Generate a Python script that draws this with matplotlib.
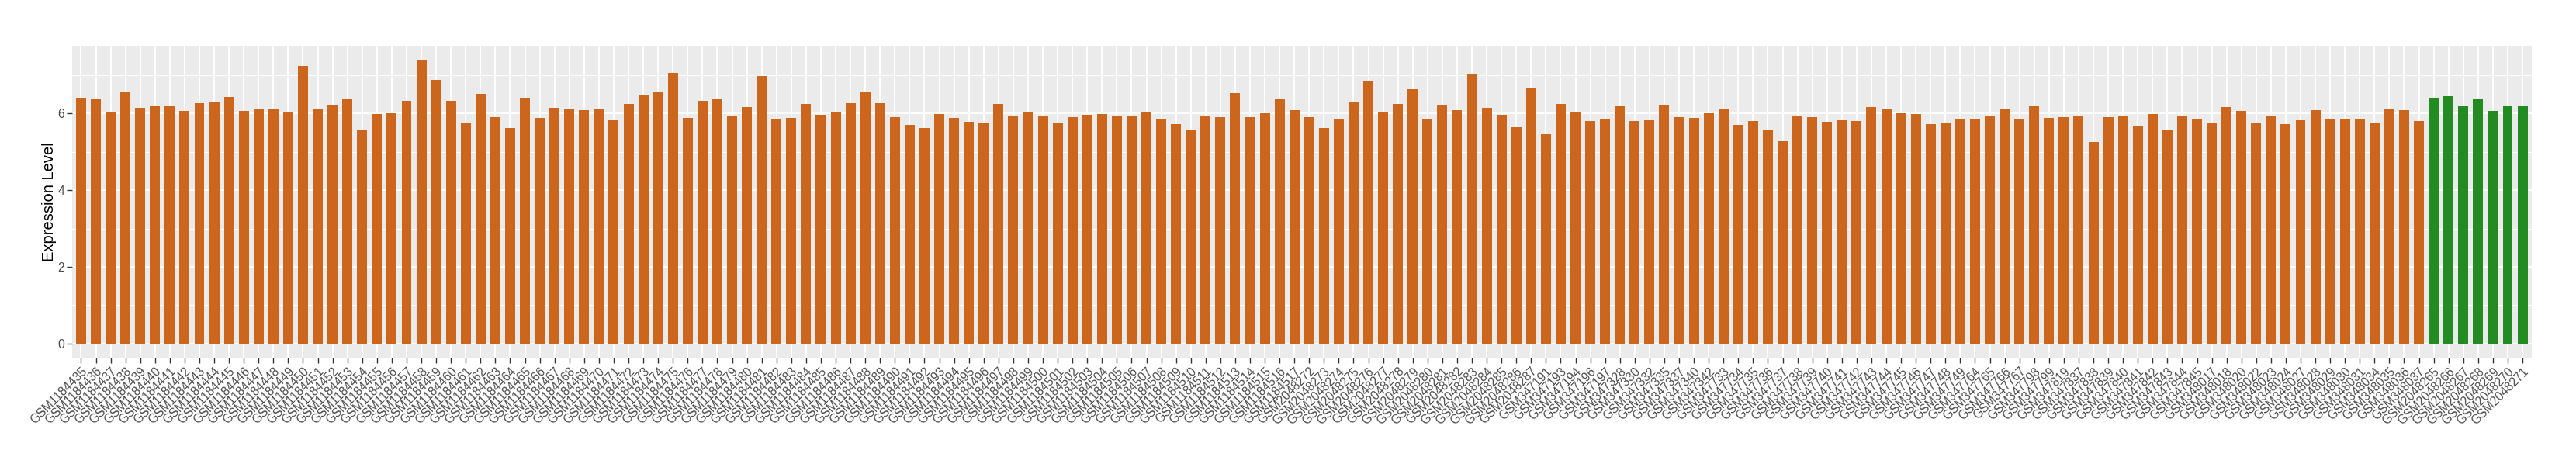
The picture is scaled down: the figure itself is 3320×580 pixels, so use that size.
"""Barras de expresion por muestra (estilo ggplot gris) guardadas en out.png."""

import matplotlib

matplotlib.use("Agg")
import matplotlib.pyplot as plt
import numpy as np
from matplotlib.ticker import MultipleLocator

plt.rcParams["font.family"] = ["Liberation Sans", "DejaVu Sans"]

# --- datos ---------------------------------------------------------------
gse1184_ids = list(range(1184435, 1184518))
gse1184_vals = [
    6.41, 6.39, 6.03, 6.56, 6.14, 6.18, 6.18, 6.06, 6.27, 6.29,
    6.43, 6.06, 6.12, 6.12, 6.03, 7.25, 6.10, 6.22, 6.37, 5.59,
    5.99, 6.01, 6.33, 7.40, 6.87, 6.33, 5.74, 6.52, 5.91, 5.62,
    6.41, 5.89, 6.14, 6.12, 6.08, 6.10, 5.83, 6.24, 6.50, 6.58,
    7.06, 5.89, 6.33, 6.37, 5.93, 6.16, 6.98, 5.85, 5.89, 6.24,
    5.97, 6.03, 6.27, 6.58, 6.27, 5.91, 5.70, 5.62, 5.99, 5.89,
    5.78, 5.76, 6.24, 5.93, 6.03, 5.95, 5.76, 5.91, 5.97, 5.99,
    5.95, 5.95, 6.03, 5.85, 5.72, 5.59, 5.93, 5.91, 6.54, 5.91,
    6.01, 6.39, 6.08,
]

gse2048_ids = list(range(2048272, 2048288))
gse2048_vals = [
    5.91, 5.62, 5.85, 6.29, 6.85, 6.03, 6.24, 6.64,
    5.85, 6.22, 6.08, 7.04, 6.14, 5.97, 5.64, 6.68,
]

gse347_ids = [
    347191, 347193, 347194, 347196, 347197,
    347328, 347330, 347332, 347335, 347337, 347340, 347342,
    347733, 347734, 347735, 347736, 347737, 347738, 347739, 347740, 347741,
    347742, 347743, 347744, 347745, 347746, 347747, 347748, 347749,
    347764, 347765, 347766, 347767, 347798, 347799, 347819,
    347837, 347838, 347839, 347840, 347841, 347842, 347843, 347844, 347845,
]
gse347_vals = [
    5.47, 6.24, 6.03, 5.80, 5.87,
    6.20, 5.80, 5.83, 6.22, 5.91, 5.89, 6.01,
    6.12, 5.70, 5.80, 5.57, 5.28, 5.93, 5.91, 5.78, 5.83,
    5.80, 6.16, 6.10, 6.01, 5.99, 5.72, 5.74, 5.85,
    5.85, 5.93, 6.10, 5.87, 6.18, 5.89, 5.91,
    5.95, 5.26, 5.91, 5.93, 5.68, 5.99, 5.59, 5.95, 5.85,
]

gse348_ids = [
    348017, 348018, 348020, 348022, 348023, 348024, 348027, 348028,
    348029, 348030, 348031, 348034, 348035, 348036, 348037,
]
gse348_vals = [
    5.74, 6.16, 6.06, 5.74, 5.95, 5.72, 5.83, 6.08,
    5.87, 5.85, 5.85, 5.76, 6.10, 6.08, 5.80,
]

# grupo control (verde) al final
control_ids = list(range(2048265, 2048272))
control_vals = [6.41, 6.45, 6.20, 6.37, 6.06, 6.20, 6.20]

ORANGE = "#CD661D"
GREEN = "#228B22"

case_ids = gse1184_ids + gse2048_ids + gse347_ids + gse348_ids
case_vals = gse1184_vals + gse2048_vals + gse347_vals + gse348_vals

labels = [f"GSM{i}" for i in case_ids + control_ids]
values = np.array(case_vals + control_vals)
colors = [ORANGE] * len(case_vals) + [GREEN] * len(control_vals)
x = np.arange(len(labels))

# --- figura ---------------------------------------------------------------
W, H = 3320, 580
fig = plt.figure(figsize=(W / 100, H / 100), dpi=100)
ax = fig.add_axes([93 / W, 119 / H, (3262.5 - 93) / W, (461 - 58.9) / H])

ax.set_facecolor("#EBEBEB")
ax.bar(x, values, width=0.68, color=colors, zorder=3)

ax.set_xlim(-0.6, len(labels) - 0.4)
ax.set_ylim(-0.37, 7.77)
ax.yaxis.set_major_locator(MultipleLocator(2))
ax.yaxis.set_minor_locator(MultipleLocator(1))
ax.set_xticks(x)
ax.set_xticklabels(labels, rotation=45, ha="right", va="top",
                   rotation_mode="anchor", fontsize=11.3, color="#4D4D4D")
ax.tick_params(axis="x", length=5, width=1, color="#333333", pad=2)
ax.tick_params(axis="y", which="major", length=5, width=1, color="#333333",
               pad=2, labelsize=11.3, labelcolor="#4D4D4D")
ax.tick_params(axis="y", which="minor", length=0)

ax.grid(True, which="major", color="white", linewidth=1.4, zorder=0)
ax.grid(True, which="minor", axis="y", color="white", linewidth=0.7, zorder=0)
ax.set_axisbelow(True)
for s in ax.spines.values():
    s.set_visible(False)

ax.set_ylabel("Expression Level", fontsize=14.5, color="black")
ax.yaxis.set_label_coords(-0.0063, 0.5)

fig.savefig("out.png", dpi=100, facecolor="white")
plt.close(fig)
